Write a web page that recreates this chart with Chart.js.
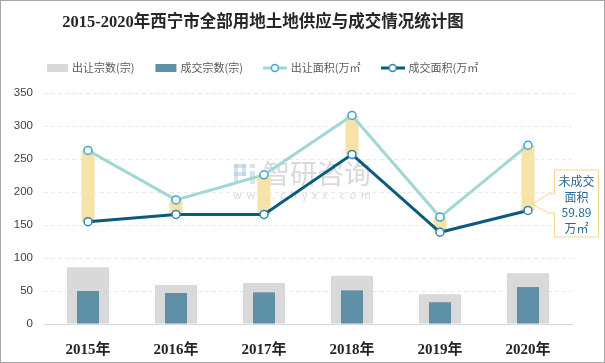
<!DOCTYPE html>
<html>
<head>
<meta charset="utf-8">
<script src="https://cdn.jsdelivr.net/npm/chart.js@4/dist/chart.umd.min.js"></script>
<style>
  html, body { margin: 0; padding: 0; background: #fff; }
  canvas { display: block; }
</style>
</head>
<body>
<canvas id="c" width="605" height="363"></canvas>
<script>
// ---- data ----
const titleText = '2015-2020年西宁市全部用地土地供应与成交情况统计图';
const years = ['2015年', '2016年', '2017年', '2018年', '2019年', '2020年'];
const supplyCount = [86, 59, 62, 73, 45, 77];      // 出让宗数(宗)
const dealCount = [50, 47, 48, 51, 33, 56];        // 成交宗数(宗)
const supplyArea = [263, 188, 226, 316, 162, 271]; // 出让面积(万㎡)
const dealArea = [155, 166, 166, 257, 139, 172];   // 成交面积(万㎡)
const seriesNames = ['出让宗数(宗)', '成交宗数(宗)', '出让面积(万㎡', '成交面积(万㎡'];
const calloutLines = ['未成交', '面积', '59.89', '万㎡'];
const yMin = 0, yMax = 350, yStep = 50;

const C = {
  grayBar: '#D9D9D9',
  blueBar: '#5E91A7',
  gap: '#F9E2A7',
  supplyLine: '#A0D8D5',
  supplyPoint: '#3AA6DB',
  dealLine: '#0A5C7E',
  dealPoint: '#2B86B4',
  text: '#404040',
  legendText: '#595959',
  grid: '#E9E9E9',
  callout: '#F6D58E',
  calloutText: '#2A6A95'
};

const gapRanges = supplyArea.map((v, i) => [Math.min(v, dealArea[i]), Math.max(v, dealArea[i])]);

const SANS = "'Noto Sans CJK SC', 'Noto Sans', sans-serif";
const SERIF = "'Liberation Serif', 'Noto Sans CJK SC', serif";

function markerImage(kind, color, pointColor) {
  const cv = document.createElement('canvas');
  cv.width = 24; cv.height = 10;
  const g = cv.getContext('2d');
  if (kind === 'box') {
    g.fillStyle = color;
    g.fillRect(1, 1, 21, 8);
  } else {
    g.strokeStyle = color; g.lineWidth = 3;
    g.beginPath(); g.moveTo(0, 5); g.lineTo(24, 5); g.stroke();
    g.fillStyle = '#fff'; g.strokeStyle = pointColor; g.lineWidth = 1.5;
    g.beginPath(); g.arc(12, 5, 3.5, 0, Math.PI * 2); g.fill(); g.stroke();
  }
  return cv;
}

const decor = {
  id: 'decor',
  beforeDatasetsDraw(chart) {
    // faint watermark
    const ctx = chart.ctx;
    ctx.save();
    ctx.fillStyle = 'rgba(170,170,170,0.45)';
    ctx.font = "27px " + SANS;
    ctx.textBaseline = 'middle';
    ctx.textAlign = 'left';
    ctx.fillText('智研咨询', 263, 174);
    ctx.font = "11px " + SANS;
    try { ctx.letterSpacing = '4.6px'; } catch (e) {}
    ctx.fillText('www.chyxx.com', 233, 195);
    try { ctx.letterSpacing = '0px'; } catch (e) {}
    ctx.fillStyle = 'rgba(160,195,225,0.45)';
    ctx.fillRect(234, 164, 12, 4);
    ctx.fillRect(242, 164, 4, 12);
    ctx.fillRect(234, 172, 12, 4);
    ctx.fillRect(234, 164, 4, 20);
    ctx.fillRect(250, 164, 5, 4);
    ctx.fillRect(250, 171, 5, 13);
    ctx.restore();
  },
  afterDatasetsDraw(chart) {
    // callout for 2020 unsold area
    const ctx = chart.ctx;
    const xs = chart.scales.x, ys = chart.scales.y;
    const last = years.length - 1;
    const tipX = xs.getPixelForValue(last) + 4;
    const tipY = ys.getPixelForValue(dealArea[last]) - 7;
    const left = tipX + 22, right = left + 44, top = tipY - 34, bottom = tipY + 33;
    ctx.save();
    ctx.fillStyle = '#fff';
    ctx.strokeStyle = C.callout;
    ctx.lineWidth = 1;
    ctx.beginPath();
    ctx.moveTo(left + 0.5, top + 0.5);
    ctx.lineTo(right + 0.5, top + 0.5);
    ctx.lineTo(right + 0.5, bottom + 0.5);
    ctx.lineTo(left + 0.5, bottom + 0.5);
    ctx.lineTo(left + 0.5, tipY + 9.5);
    ctx.lineTo(left - 5.5, tipY + 9.5);
    ctx.lineTo(tipX + 0.5, tipY + 0.5);
    ctx.lineTo(left - 5.5, tipY - 9.5);
    ctx.lineTo(left + 0.5, tipY - 9.5);
    ctx.closePath();
    ctx.fill(); ctx.stroke();
    ctx.fillStyle = C.calloutText;
    ctx.font = "12px " + SANS;
    ctx.textAlign = 'center';
    ctx.textBaseline = 'middle';
    const cx = (left + right) / 2 + 0.5;
    calloutLines.forEach((t, i) => ctx.fillText(t, cx, top + 12 + i * 15.5));
    ctx.restore();
  },
  afterDraw(chart) {
    const ctx = chart.ctx;
    ctx.save();
    // title
    ctx.fillStyle = '#262626';
    ctx.font = "bold 16.5px " + SERIF;
    ctx.textAlign = 'center';
    ctx.textBaseline = 'middle';
    ctx.fillText(titleText, 263, 23);
    // legend
    ctx.font = "11px " + SANS;
    ctx.textAlign = 'left';
    let x = 47;
    const y = 68;
    const items = [
      {img: markerImage('box', C.grayBar), w: 21},
      {img: markerImage('box', C.blueBar), w: 21},
      {img: markerImage('line', C.supplyLine, C.supplyPoint), w: 23},
      {img: markerImage('line', C.dealLine, C.dealPoint), w: 23}
    ];
    items.forEach((it, i) => {
      ctx.drawImage(it.img, x - 1, y - 5);
      x += it.w + 4;
      ctx.fillStyle = C.legendText;
      ctx.fillText(seriesNames[i], x, y);
      x += ctx.measureText(seriesNames[i]).width + 21;
    });
    // outer frame
    ctx.strokeStyle = '#A6A6A6';
    ctx.lineWidth = 1;
    ctx.strokeRect(0.5, 0.5, 604, 362);
    ctx.restore();
  }
};

new Chart(document.getElementById('c'), {
  data: {
    labels: years,
    datasets: [
      {
        type: 'line', label: seriesNames[2], data: supplyArea, order: 0,
        borderColor: C.supplyLine, borderWidth: 3,
        pointRadius: 4, pointBorderWidth: 1.5,
        pointBackgroundColor: '#fff', pointBorderColor: C.supplyPoint,
        tension: 0
      },
      {
        type: 'line', label: seriesNames[3], data: dealArea, order: 1,
        borderColor: C.dealLine, borderWidth: 3,
        pointRadius: 4, pointBorderWidth: 1.5,
        pointBackgroundColor: '#fff', pointBorderColor: C.dealPoint,
        tension: 0
      },
      {
        type: 'bar', label: 'gap', data: gapRanges, order: 2,
        backgroundColor: C.gap, grouped: false,
        categoryPercentage: 1, barPercentage: 13 / 88
      },
      {
        type: 'bar', label: seriesNames[1], data: dealCount, order: 3,
        backgroundColor: C.blueBar, grouped: false,
        categoryPercentage: 1, barPercentage: 22 / 88
      },
      {
        type: 'bar', label: seriesNames[0], data: supplyCount, order: 4,
        backgroundColor: C.grayBar, grouped: false,
        categoryPercentage: 1, barPercentage: 42 / 88
      }
    ]
  },
  options: {
    responsive: false,
    animation: false,
    layout: { padding: { top: 93, right: 33, bottom: 0, left: 0 } },
    plugins: {
      legend: { display: false },
      title: { display: false },
      tooltip: { enabled: false }
    },
    scales: {
      x: {
        type: 'category',
        offset: true,
        grid: { display: false },
        border: { display: true, color: '#D9D9D9', width: 1 },
        ticks: {
          color: '#262626', padding: 9,
          font: { family: SERIF, size: 15, weight: 'bold' }
        },
        afterFit(s) { s.height = 39; }
      },
      y: {
        min: yMin, max: yMax,
        grid: { color: C.grid, drawTicks: false, lineWidth: 1 },
        border: { display: false, dash: [4, 3] },
        ticks: {
          stepSize: yStep, color: C.text, padding: 11,
          font: { family: "'Liberation Sans', 'Noto Sans', sans-serif", size: 11.5 }
        },
        afterFit(s) { s.width = 44; }
      }
    }
  },
  plugins: [decor]
});
</script>
</body>
</html>
